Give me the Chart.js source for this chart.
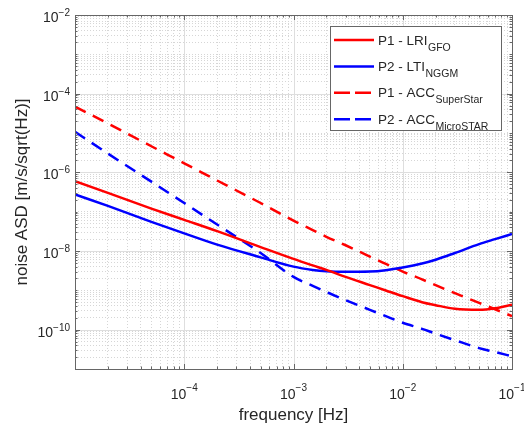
<!DOCTYPE html>
<html>
<head>
<meta charset="utf-8">
<script src="https://cdn.jsdelivr.net/npm/chart.js@4.4.0/dist/chart.umd.min.js"></script>
<style>
  html, body { margin: 0; padding: 0; background: #fff; }
  #wrap { width: 524px; height: 428px; }
</style>
</head>
<body>
<div id="wrap"><canvas id="asd" width="524" height="428"></canvas></div>
<script>
// frequencies [Hz] and the four noise curves
const freqs = [1e-5, 2e-5, 5e-5, 1e-4, 2e-4, 5e-4, 1e-3, 1.5e-3, 2e-3, 3e-3, 5e-3, 7e-3, 1e-2, 1.5e-2, 2e-2, 3e-2, 5e-2, 7e-2, 1e-1];
const lriGfo = [6.0e-7, 3.0e-7, 1.2e-7, 6.2e-8, 3.2e-8, 1.26e-8, 6.3e-9, 4.3e-9, 3.3e-9, 2.2e-9, 1.36e-9, 9.9e-10, 7.1e-10, 5.0e-10, 4.2e-10, 3.4e-10, 3.2e-10, 3.5e-10, 4.3e-10];
const ltiNggm = [2.75e-7, 1.4e-7, 5.5e-8, 2.8e-8, 1.45e-8, 6.9e-9, 4.0e-9, 3.3e-9, 3.05e-9, 2.95e-9, 3.0e-9, 3.25e-9, 3.8e-9, 4.8e-9, 6.0e-9, 8.9e-9, 1.5e-8, 2.0e-8, 2.7e-8];
const accSuperStar = [4.7e-5, 1.74e-5, 4.6e-6, 1.7e-6, 6.2e-7, 1.66e-7, 5.9e-8, 3.4e-8, 2.3e-8, 1.4e-8, 7.2e-9, 4.7e-9, 3.0e-9, 1.9e-9, 1.35e-9, 8.5e-10, 4.8e-10, 3.3e-10, 2.2e-10];
const accMicroStar = [1.07e-5, 3.0e-6, 5.8e-7, 1.66e-7, 4.7e-8, 8.9e-9, 2.2e-9, 1.3e-9, 9.1e-10, 5.6e-10, 3.2e-10, 2.2e-10, 1.5e-10, 1.05e-10, 7.9e-11, 5.4e-11, 3.4e-11, 2.7e-11, 2.1e-11];

const seriesNames = ['P1 - LRI', 'P2 - LTI', 'P1 - ACC', 'P2 - ACC'];
const seriesSubs = ['GFO', 'NGGM', 'SuperStar', 'MicroSTAR'];

const xTickValues = [1e-4, 1e-3, 1e-2, 1e-1];
const yTickValues = [1e-10, 1e-8, 1e-6, 1e-4, 1e-2];

const textColor = '#262626';
const axisColor = '#666666';
const fontFamily = '"Liberation Sans", Arial, Helvetica, sans-serif';

function minorTicks(lo, hi) {
    const out = [];
    for (let e = lo; e < hi; e++) {
        for (let m = 1; m < 10; m++) out.push(m * Math.pow(10, e));
    }
    out.push(Math.pow(10, hi));
    return out;
}

function isMajor(v, list) {
    return list.some(t => Math.abs(Math.log10(v) - Math.log10(t)) < 1e-6);
}

const toPoints = (ys) => freqs.map((f, i) => ({ x: f, y: ys[i] }));

const matlabAxes = {
    id: 'matlabAxes',
    beforeDatasetsDraw(chart) {
        const { ctx, chartArea: a, scales: { x, y } } = chart;
        ctx.save();
        ctx.strokeStyle = '#dedede';
        ctx.lineWidth = 1;
        ctx.beginPath();
        xTickValues.forEach(v => {
            const px = Math.round(x.getPixelForValue(v)) + 0.5;
            ctx.moveTo(px, a.top); ctx.lineTo(px, a.bottom);
        });
        yTickValues.forEach(v => {
            const py = Math.round(y.getPixelForValue(v)) + 0.5;
            ctx.moveTo(a.left, py); ctx.lineTo(a.right, py);
        });
        ctx.stroke();
        ctx.restore();
    },
    afterDatasetsDraw(chart) {
        const { ctx, chartArea: a, scales: { x, y } } = chart;
        ctx.save();

        // box
        ctx.strokeStyle = axisColor;
        ctx.lineWidth = 1;
        ctx.strokeRect(Math.round(a.left) + 0.5, Math.round(a.top) + 0.5,
            Math.round(a.right - a.left), Math.round(a.bottom - a.top));

        // inward tick marks on all four sides
        ctx.beginPath();
        x.ticks.forEach(t => {
            const len = isMajor(t.value, xTickValues) ? 5 : 2.5;
            const px = Math.round(x.getPixelForValue(t.value)) + 0.5;
            ctx.moveTo(px, a.bottom); ctx.lineTo(px, a.bottom - len);
            ctx.moveTo(px, a.top); ctx.lineTo(px, a.top + len);
        });
        y.ticks.forEach(t => {
            const len = isMajor(t.value, yTickValues) ? 5 : 2.5;
            const py = Math.round(y.getPixelForValue(t.value)) + 0.5;
            ctx.moveTo(a.left, py); ctx.lineTo(a.left + len, py);
            ctx.moveTo(a.right, py); ctx.lineTo(a.right - len, py);
        });
        ctx.stroke();

        // tick labels 10^n
        ctx.fillStyle = textColor;
        const baseFont = '14px ' + fontFamily;
        const expFont = '10px ' + fontFamily;
        xTickValues.forEach(v => {
            const px = x.getPixelForValue(v);
            const exp = String(Math.round(Math.log10(v))).replace('-', '\u2212');
            ctx.font = baseFont;
            const wb = ctx.measureText('10').width;
            ctx.font = expFont;
            const we = ctx.measureText(exp).width;
            const left = px - (wb + we) / 2;
            ctx.textAlign = 'left';
            ctx.textBaseline = 'alphabetic';
            ctx.font = baseFont;
            ctx.fillText('10', left, a.bottom + 30);
            ctx.font = expFont;
            ctx.fillText(exp, left + wb, a.bottom + 22);
        });
        yTickValues.forEach(v => {
            const py = y.getPixelForValue(v);
            const exp = String(Math.round(Math.log10(v))).replace('-', '\u2212');
            ctx.font = expFont;
            const we = ctx.measureText(exp).width;
            const right = a.left - 5;
            ctx.textAlign = 'right';
            ctx.textBaseline = 'alphabetic';
            ctx.fillText(exp, right, py + 1);
            ctx.font = baseFont;
            ctx.fillText('10', right - we, py + 7);
        });

        // axis titles
        ctx.font = '17px ' + fontFamily;
        ctx.textAlign = 'center';
        ctx.textBaseline = 'middle';
        ctx.fillText('frequency [Hz]', (a.left + a.right) / 2, 415);
        ctx.save();
        ctx.translate(22, (a.top + a.bottom) / 2);
        ctx.rotate(-Math.PI / 2);
        ctx.fillText('noise ASD [m/s/sqrt(Hz)]', 0, 0);
        ctx.restore();

        // legend with subscripts
        const lx = 330, ly = 26, lw = 171, lh = 104;
        ctx.fillStyle = '#ffffff';
        ctx.fillRect(lx, ly, lw, lh);
        ctx.strokeStyle = axisColor;
        ctx.strokeRect(lx + 0.5, ly + 0.5, lw, lh);
        chart.data.datasets.forEach((ds, i) => {
            const rowY = 40 + i * 26.4;
            ctx.strokeStyle = ds.borderColor;
            ctx.lineWidth = ds.borderWidth;
            ctx.setLineDash(ds.borderDash && ds.borderDash.length ? [16, 5] : []);
            ctx.beginPath();
            ctx.moveTo(334, rowY); ctx.lineTo(374, rowY);
            ctx.stroke();
            ctx.setLineDash([]);
            ctx.fillStyle = textColor;
            ctx.textAlign = 'left';
            ctx.textBaseline = 'alphabetic';
            ctx.font = '13.5px ' + fontFamily;
            ctx.fillText(seriesNames[i], 378, rowY + 4.5);
            const w = ctx.measureText(seriesNames[i]).width;
            ctx.font = '10.5px ' + fontFamily;
            ctx.fillText(seriesSubs[i], 378 + w + 0.5, rowY + 10.5);
        });
        ctx.restore();
    }
};

const dsBase = { pointRadius: 0, borderWidth: 2.5, fill: false, cubicInterpolationMode: 'monotone' };

new Chart(document.getElementById('asd'), {
    type: 'line',
    data: {
        datasets: [
            { ...dsBase, label: 'P1 - LRI GFO', data: toPoints(lriGfo), borderColor: '#ff0000' },
            { ...dsBase, label: 'P2 - LTI NGGM', data: toPoints(ltiNggm), borderColor: '#0000ff' },
            { ...dsBase, label: 'P1 - ACC SuperStar', data: toPoints(accSuperStar), borderColor: '#ff0000', borderDash: [12, 8] },
            { ...dsBase, label: 'P2 - ACC MicroSTAR', data: toPoints(accMicroStar), borderColor: '#0000ff', borderDash: [12, 8] }
        ]
    },
    options: {
        responsive: false,
        animation: false,
        layout: { padding: { left: 75, top: 15, right: 12, bottom: 59 } },
        plugins: { legend: { display: false }, tooltip: { enabled: false } },
        scales: {
            x: {
                type: 'logarithmic',
                min: 1e-5, max: 1e-1,
                afterBuildTicks: axis => { axis.ticks = minorTicks(-5, -1).map(v => ({ value: v })); },
                ticks: { display: false },
                border: { display: false, dash: [1, 2] },
                grid: {
                    drawTicks: false,
                    color: c => (c.tick && isMajor(c.tick.value, xTickValues)) ? 'rgba(0,0,0,0)' : '#d6d6d6'
                }
            },
            y: {
                type: 'logarithmic',
                min: 1e-11, max: 1e-2,
                afterBuildTicks: axis => { axis.ticks = minorTicks(-11, -2).map(v => ({ value: v })); },
                ticks: { display: false },
                border: { display: false, dash: [1, 2] },
                grid: {
                    drawTicks: false,
                    color: c => (c.tick && isMajor(c.tick.value, yTickValues)) ? 'rgba(0,0,0,0)' : '#d6d6d6'
                }
            }
        }
    },
    plugins: [matlabAxes]
});
</script>
</body>
</html>
